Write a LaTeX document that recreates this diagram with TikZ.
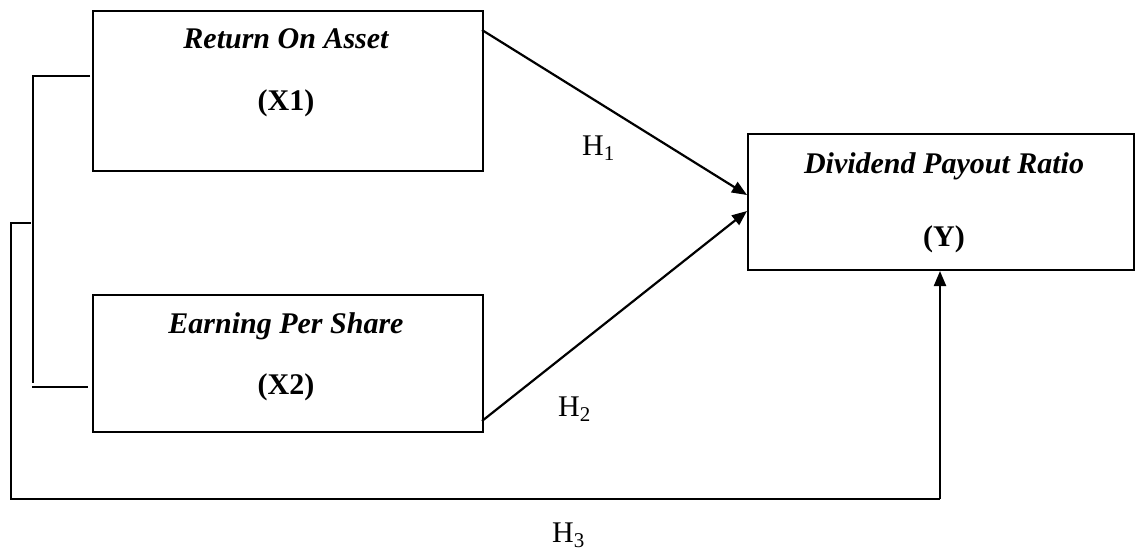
\documentclass[tikz,border=0pt]{standalone}
\usepackage{fontspec}
\setmainfont{Liberation Serif}
\usetikzlibrary{arrows.meta}
\begin{document}
\begin{tikzpicture}[x=1pt,y=-1pt,
  box/.style={draw, line width=2pt, minimum width=#1, anchor=north west, inner sep=0pt},
  title/.style={anchor=base, inner sep=0pt, font=\fontsize{30}{34}\selectfont\bfseries\itshape},
  code/.style={anchor=base, inner sep=0pt, font=\fontsize{30}{34}\selectfont\bfseries},
  hyp/.style={anchor=base west, inner sep=0pt, font=\fontsize{30}{34}\selectfont},
  conn/.style={line width=2pt},
  arr/.style={line width=2.2pt, -{Triangle[length=15pt,width=12pt]}}]
\useasboundingbox (0,0) rectangle (1136,550);
% boxes
\node[box=390pt, minimum height=160pt] (x1) at (92,10) {};
\node[box=390pt, minimum height=137pt] (x2) at (92,294) {};
\node[box=386pt, minimum height=136pt] (y) at (747,133) {};
% texts
\node[title] (t1) at (286,48) {Return On Asset};
\node[code] (c1) at (286,110) {(X1)};
\node[title] (t2) at (286,333) {Earning Per Share};
\node[code] (c2) at (286,394) {(X2)};
\node[title] (t3) at (944,173) {Dividend Payout Ratio};
\node[code] (c3) at (944,246) {(Y)};
% hypotheses labels
\node[hyp] (h1) at (582,155) {H\textsubscript{1}};
\node[hyp] (h2) at (558,416) {H\textsubscript{2}};
\node[hyp] (h3) at (552,542) {H\textsubscript{3}};
% arrows
\coordinate (a1) at (482,30);
\coordinate (b1) at (747,195);
\coordinate (a2) at (482,421);
\coordinate (b2) at (747,211);
\draw[arr] (a1) -- (b1);
\draw[arr] (a2) -- (b2);
% inner bracket
\coordinate (p1) at (90,76);
\coordinate (p2) at (33,76);
\coordinate (p3) at (33,383);
\coordinate (p4) at (32,387);
\coordinate (p5) at (88,387);
\draw[conn] (p1) -- (p2) -- (p3);
\draw[conn] (p4) -- (p5);
% outer bracket with H3 path
\coordinate (q1) at (31,223);
\coordinate (q2) at (11,223);
\coordinate (q3) at (11,499);
\coordinate (q4) at (940,499);
\draw[conn] (q1) -- (q2) -- (q3) -- (q4);
\draw[arr] (q4) -- (y.south west -| q4);
\end{tikzpicture}
\end{document}
